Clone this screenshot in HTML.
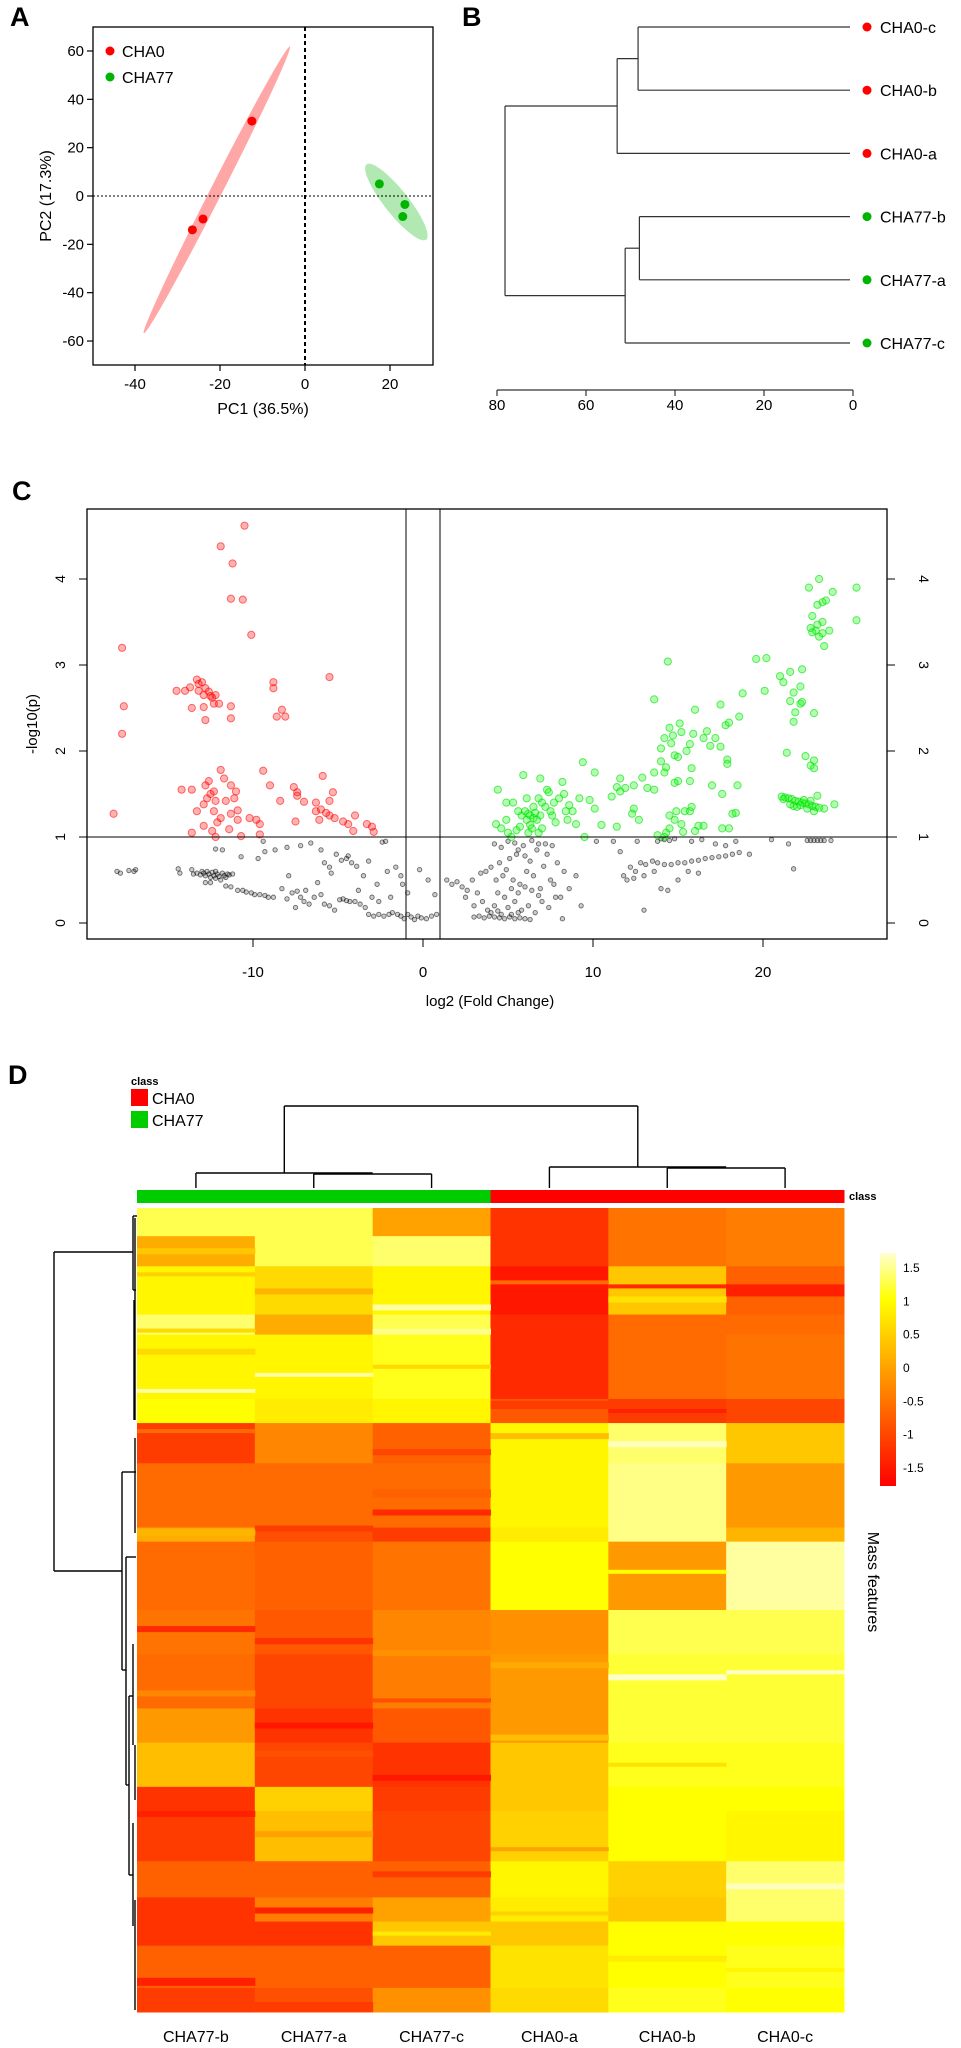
<!DOCTYPE html>
<html>
<head>
<meta charset="utf-8">
<style>
html,body{margin:0;padding:0;background:#fff;}
svg{display:block;font-family:"Liberation Sans",sans-serif;}
</style>
</head>
<body>
<svg id="fig" width="961" height="2048" viewBox="0 0 961 2048" xmlns="http://www.w3.org/2000/svg">
<rect x="0" y="0" width="961" height="2048" fill="#fff"/>

<g>
  <text x="10" y="26" font-size="27" font-weight="bold">A</text>
  <g id="pcaMarks"></g>
  <rect x="93" y="27" width="340" height="338" fill="none" stroke="#000" stroke-width="1.3"/>
  <g id="pcaAxes"></g>
  <text x="263" y="414" font-size="16" text-anchor="middle">PC1 (36.5%)</text>
  <text transform="translate(51,196) rotate(-90)" font-size="16" text-anchor="middle">PC2 (17.3%)</text>
  <g>
    <circle cx="110" cy="51" r="4.5" fill="#ff0000"/>
    <text x="122" y="57" font-size="16">CHA0</text>
    <circle cx="110" cy="77" r="4.5" fill="#00b400"/>
    <text x="122" y="83" font-size="16">CHA77</text>
  </g>
</g>

<g>
  <text x="462" y="26" font-size="27" font-weight="bold">B</text>
  <g id="dendroB"></g>
</g>

<g>
  <text x="12" y="500" font-size="27" font-weight="bold">C</text>
  <g id="volMarks"></g>
  <g id="volAxes"></g>
  <text x="490" y="1006" font-size="15" text-anchor="middle">log2 (Fold Change)</text>
  <text transform="translate(37,724) rotate(-90)" font-size="15" text-anchor="middle">-log10(p)</text>
</g>

<g>
  <text x="8" y="1084" font-size="27" font-weight="bold">D</text>
  <g>
    <text x="131" y="1085" font-size="11" font-weight="bold">class</text>
    <rect x="131" y="1089" width="17" height="17" fill="#ff0000"/>
    <text x="152" y="1104" font-size="16">CHA0</text>
    <rect x="131" y="1111" width="17" height="17" fill="#00cc00"/>
    <text x="152" y="1126" font-size="16">CHA77</text>
  </g>
  <g id="heat"></g>
  <g id="heatDendro"></g>
  <text x="849" y="1200" font-size="11" font-weight="bold">class</text>
  <defs>
    <linearGradient id="cbar" x1="0" y1="0" x2="0" y2="1">
      <stop offset="0" stop-color="#ffffd0"/>
      <stop offset="0.2" stop-color="#ffff00"/>
      <stop offset="0.5" stop-color="#ffa000"/>
      <stop offset="0.8" stop-color="#ff4000"/>
      <stop offset="1" stop-color="#ff0000"/>
    </linearGradient>
  </defs>
  <rect x="880" y="1253" width="16" height="233" fill="url(#cbar)"/>
  <g id="cbarLabels" font-size="12"></g>
  <text transform="translate(868,1582) rotate(90)" font-size="16" text-anchor="middle">Mass features</text>
  <g id="colLabels" font-size="16"></g>
</g>
</svg>

<script>
const pcaRedX = [-26.5, -24, -12.5];
const pcaRedY = [-14, -9.5, 31];
const pcaGreenX = [17.5, 23.5, 23];
const pcaGreenY = [5, -3.5, -8.5];
const pcaXTicks = [-40, -20, 0, 20];
const pcaYTicks = [60, 40, 20, 0, -20, -40, -60];

const dendroLeaves = ["CHA0-c", "CHA0-b", "CHA0-a", "CHA77-b", "CHA77-a", "CHA77-c"];
const dendroLeafGroup = ["CHA0", "CHA0", "CHA0", "CHA77", "CHA77", "CHA77"];
const dendroMergeHeights = [48.3, 53, 48, 51.2, 78.2];
const dendroTicks = [80, 60, 40, 20, 0];

const volXTicks = [-10, 0, 10, 20];
const volYTicks = [0, 1, 2, 3, 4];
const volRed = [[-10.5,4.62],[-11.9,4.38],[-11.2,4.18],[-11.3,3.77],[-10.6,3.76],[-10.1,3.35],[-17.7,3.2],[-17.6,2.52],[-17.7,2.2],[-18.2,1.27],[-5.5,2.86],[-8.8,2.8],[-8.8,2.73],[-8.3,2.48],[-8.6,2.4],[-8.1,2.4],
[-14.5,2.7],[-14.0,2.7],[-13.7,2.74],[-13.3,2.83],[-13.2,2.78],[-13.0,2.8],[-12.8,2.73],[-13.2,2.7],[-12.9,2.65],[-12.6,2.69],[-12.4,2.62],[-12.3,2.55],[-12.0,2.55],[-12.2,2.65],[-11.3,2.52],[-11.3,2.38],[-12.8,2.36],[-13.6,2.5],[-12.9,2.51],[-12.5,2.64],
[-14.2,1.55],[-13.6,1.55],[-12.8,1.6],[-12.6,1.65],[-12.5,1.5],[-12.7,1.45],[-12.3,1.53],[-12.9,1.38],[-12.2,1.42],[-12.3,1.3],[-11.9,1.22],[-12.1,1.17],[-12.4,1.07],[-11.9,1.78],[-11.7,1.68],[-11.3,1.6],[-11.0,1.53],[-11.1,1.45],[-11.6,1.42],[-11.3,1.27],[-10.9,1.31],[-11.4,1.09],[-10.9,1.2],[-12.9,1.13],[-13.6,1.05],[-13.3,1.3],[-12.2,1.0],[-10.7,1.01],[-10.2,1.22],[-9.8,1.2],[-9.6,1.15],[-9.6,1.03],[-9.4,1.77],[-9.0,1.6],[-8.4,1.42],[-7.6,1.58],[-7.4,1.52],[-7.4,1.48],[-7.5,1.18],[-6.3,1.4],[-6.3,1.3],[-6.1,1.2],[-5.9,1.71],[-5.7,1.28],[-5.5,1.42],[-5.3,1.52],[-5.2,1.22],[-5.5,1.25],[-4.7,1.18],[-4.4,1.15],[-4.0,1.25],[-4.1,1.07],[-3.3,1.15],[-3.0,1.12],[-2.9,1.06],[-6.0,1.32],[-7.0,1.41]];
const volGreen = [[14.4,3.04],[18.8,2.67],[18.6,2.40],[16.0,2.48],[17.5,2.54],[13.6,2.6],[19.6,3.07],[20.2,3.08],[21.0,2.87],[20.1,2.7],[21.6,2.92],[22.3,2.95],[22.2,2.75],[21.2,2.8],[21.8,2.68],[22.2,2.55],[22.3,2.57],[21.9,2.45],[21.8,2.34],[21.6,2.58],[23.0,2.44],[22.5,1.94],[23.0,1.89],[22.8,1.83],[23.0,1.8],[21.4,1.98],[22.7,3.9],[23.3,4.0],[25.5,3.9],[24.1,3.85],[23.7,3.75],[23.5,3.73],[23.2,3.7],[22.8,3.43],[23.1,3.4],[23.5,3.5],[23.2,3.47],[22.9,3.57],[22.9,3.38],[23.3,3.33],[23.5,3.37],[23.9,3.4],[23.6,3.22],[25.5,3.52],
[21.1,1.47],[21.3,1.46],[21.5,1.45],[21.7,1.44],[21.9,1.42],[22.1,1.41],[22.3,1.40],[22.5,1.39],[22.7,1.38],[22.9,1.36],[23.1,1.35],[21.6,1.38],[21.8,1.36],[22.0,1.35],[22.4,1.43],[22.6,1.33],[23.3,1.34],[23.6,1.33],[23.2,1.48],[24.2,1.38],[21.2,1.44],[22.2,1.37],[22.8,1.42],[23.0,1.3],
[9.4,1.87],[10.1,1.75],[11.4,1.58],[11.6,1.68],[12.4,1.6],[12.9,1.69],[13.2,1.57],[13.6,1.75],[14.0,1.88],[14.2,1.75],[14.3,1.81],[14.5,2.27],[14.2,2.15],[14.0,2.03],[14.7,2.18],[14.6,2.09],[14.8,1.95],[15.1,2.32],[15.2,2.22],[15.5,2.0],[15.7,2.08],[15.9,2.2],[16.5,2.15],[16.7,2.23],[16.9,2.06],[17.2,2.15],[17.5,2.05],[17.8,2.3],[18.0,2.33],[17.9,1.9],[17.9,1.85],[17.0,1.6],[17.6,1.5],[18.5,1.6],[18.2,1.27],[18.4,1.28],[18.0,1.1],[17.6,1.1],[15.0,1.93],[15.0,1.65],[14.8,1.63],[15.7,1.65],[15.8,1.8],[16.2,1.13],[16.5,1.13],[16.0,1.07],[15.7,1.3],[15.4,1.3],[15.8,1.35],[14.9,1.3],[14.8,1.2],[15.2,1.15],[15.3,1.06],[14.5,1.1],[14.3,1.05],[13.8,1.02],[14.2,1.0],[14.5,1.25],[13.6,1.55],[12.4,1.33],[12.3,1.27],[12.7,1.2],[11.9,1.57],[11.6,1.53],[11.1,1.47],[11.4,1.12],[10.5,1.14],[10.1,1.33],[9.8,1.43],[9.2,1.45],[9.0,1.15],[8.8,1.3],[9.5,1.0],
[4.4,1.55],[4.3,1.15],[4.6,1.1],[4.9,1.2],[4.9,1.4],[5.0,1.05],[5.3,1.4],[5.5,1.08],[5.7,1.12],[5.8,1.25],[5.9,1.72],[6.0,1.3],[6.1,1.2],[6.2,1.27],[6.3,1.25],[6.3,1.14],[6.4,1.1],[6.5,1.22],[6.5,1.35],[6.6,1.28],[6.7,1.2],[6.8,1.05],[6.8,1.45],[6.9,1.68],[7.0,1.4],[7.2,1.35],[7.3,1.55],[7.4,1.52],[7.5,1.3],[7.6,1.25],[7.8,1.17],[8.0,1.45],[8.2,1.64],[8.3,1.5],[8.4,1.3],[8.6,1.37],[7.0,1.1],[5.2,1.0],[6.1,1.45],[5.6,1.3],[6.9,1.25],[6.2,1.05],[7.7,1.4],[8.5,1.2]];
const volGray = [[-18,0.6],[-17.8,0.58],[-17.3,0.61],[-17,0.6],[-16.9,0.62],[-14.4,0.63],[-14.3,0.58],[-13.6,0.62],
[-13.5,0.57],[-13.3,0.58],[-13.1,0.56],[-12.9,0.58],[-12.8,0.55],[-12.6,0.57],[-12.5,0.53],[-12.4,0.59],[-12.3,0.55],[-12.2,0.52],[-12.1,0.57],[-12.0,0.54],[-11.9,0.5],[-11.8,0.58],[-11.7,0.55],[-11.6,0.53],[-11.5,0.57],[-11.4,0.56],[-11.2,0.57],[-12.7,0.6],[-13.0,0.6],[-12.2,0.6],
[-12.8,0.47],[-12.5,0.47],[-12.2,0.86],[-11.8,0.85],[-11.6,0.43],[-11.3,0.42],[-10.9,0.38],[-10.6,0.38],[-10.4,0.36],[-10.1,0.35],[-9.9,0.33],[-9.6,0.33],[-9.3,0.32],[-9.1,0.3],[-8.8,0.3],[-10.7,0.77],[-9.7,0.75],[-9.4,0.95],[-9.3,0.83],[-8.7,0.85],[-8.3,0.4],[-8.0,0.28],[-7.7,0.35],[-7.4,0.37],[-7.2,0.3],[-7.0,0.25],[-6.7,0.22],[-6.4,0.3],[-6.0,0.33],[-5.8,0.22],[-5.5,0.2],[-5.2,0.15],[-4.9,0.27],[-4.7,0.28],[-4.5,0.26],[-4.3,0.25],[-4.0,0.25],[-3.7,0.22],[-3.4,0.18],[-3.2,0.1],[-2.9,0.08],[-2.6,0.1],[-2.3,0.08],[-2.0,0.1],[-1.8,0.12],[-1.5,0.1],[-1.3,0.08],[-1.1,0.05],[-0.9,0.1],[-0.7,0.07],[-0.5,0.04],[-0.3,0.08],[-0.1,0.06],[0.2,0.05],[0.5,0.08],[0.8,0.1],
[-8.0,0.88],[-7.2,0.9],[-6.6,0.93],[-6.0,0.85],[-5.8,0.7],[-5.5,0.65],[-5.1,0.8],[-4.8,0.73],[-4.5,0.75],[-4.4,0.78],[-4.2,0.7],[-3.9,0.66],[-3.5,0.55],[-3.2,0.72],[-2.7,0.45],[-2.4,0.94],[-2.2,0.95],[-2.1,0.6],[-1.6,0.65],[-1.3,0.55],[-1.2,0.45],[-0.9,0.35],[-0.2,0.62],[0.3,0.5],[0.7,0.33],[-7.9,0.55],[-7.5,0.18],[-6.9,0.38],[-6.2,0.47],[-5.4,0.58],[-3.8,0.38],[-3.0,0.3],[-2.6,0.25],[-1.9,0.3],
[1.4,0.5],[1.7,0.45],[2.0,0.48],[2.3,0.42],[2.6,0.38],[2.9,0.5],[3.2,0.35],[3.4,0.58],[3.7,0.6],[4.0,0.65],[4.3,0.5],[4.5,0.7],[4.7,0.55],[4.9,0.62],[5.1,0.75],[5.3,0.5],[5.5,0.8],[5.7,0.45],[5.9,0.9],[6.1,0.6],[6.3,0.72],[6.5,0.55],[6.7,0.85],[6.9,0.4],[7.1,0.66],[7.3,0.8],[7.5,0.5],[7.7,0.45],[7.9,0.7],[8.1,0.3],[8.3,0.6],[8.6,0.4],[9.0,0.55],[9.3,0.2],[2.5,0.3],[3.0,0.2],[3.5,0.25],[3.8,0.15],[4.2,0.2],[4.6,0.1],[5.0,0.18],[5.4,0.25],[5.8,0.15],[6.2,0.2],[6.6,0.12],[7.0,0.25],[7.4,0.18],[7.8,0.3],[8.2,0.05],
[3.0,0.07],[3.3,0.08],[3.6,0.06],[3.9,0.08],[4.2,0.07],[4.5,0.06],[4.8,0.05],[5.1,0.07],[5.4,0.05],[5.7,0.06],[6.0,0.05],[6.3,0.04],[4.0,0.12],[4.4,0.14],[5.2,0.1],[5.6,0.12],
[4.2,0.92],[4.6,0.88],[5.0,0.95],[5.4,0.93],[5.6,0.85],[6.0,0.78],[6.4,0.96],[6.8,0.92],[7.2,0.92],[7.6,0.9],[5.2,0.4],[5.6,0.35],[6.0,0.42],[6.4,0.38],[6.8,0.32],[4.4,0.35],[4.8,0.3],
[10.2,0.95],[11.2,0.95],[11.6,0.83],[12.2,0.65],[12.5,0.6],[12.8,0.7],[13.1,0.68],[13.5,0.72],[13.8,0.7],[14.2,0.68],[14.6,0.68],[15.0,0.7],[15.4,0.7],[15.8,0.72],[16.2,0.73],[16.6,0.75],[17.0,0.76],[17.4,0.77],[17.8,0.78],[18.2,0.8],[18.6,0.82],[19.2,0.8],[11.8,0.55],[12.0,0.5],[12.4,0.52],[13.0,0.55],[13.6,0.6],[14.0,0.4],[14.4,0.38],[15.0,0.5],[15.6,0.6],[16.2,0.58],[12.6,0.95],[13.8,0.95],[14.2,0.97],[14.8,0.98],[15.8,0.95],[16.4,0.97],[17.2,0.92],[17.8,0.9],[18.4,0.95],[20.5,0.97],[21.5,0.92],[21.8,0.63],[22.6,0.96],[22.8,0.96],[23.0,0.96],[23.2,0.96],[23.4,0.96],[23.6,0.96],[24.0,0.96],[13.0,0.15],[14.0,0.98],[14.5,0.96]];

const heatColumns = ["CHA77-b", "CHA77-a", "CHA77-c", "CHA0-a", "CHA0-b", "CHA0-c"];
const heatColumnClass = ["CHA77", "CHA77", "CHA77", "CHA0", "CHA0", "CHA0"];
const heatBlockRows = [14,15,24,10,32,12,20,32,7,34,22,27,17,22,12,25,18,12,12,21,12];
const heatBlockValues = [
 [1.3,1.3,0.0,-1.2,-0.5,-0.4],
 [0.1,1.3,1.4,-1.2,-0.5,-0.4],
 [0.9,0.6,0.9,-1.5,0.4,-0.7],
 [1.4,0.1,1.3,-1.3,-0.6,-0.6],
 [0.9,0.9,1.1,-1.3,-0.6,-0.5],
 [1.0,0.8,0.9,-0.8,-1.1,-1.0],
 [-1.1,-0.3,-0.7,0.9,1.4,0.4],
 [-0.6,-0.6,-0.6,0.9,1.5,-0.1],
 [0.1,-0.9,-1.1,0.8,1.5,0.2],
 [-0.6,-0.7,-0.5,1.0,-0.1,1.6],
 [-0.5,-0.8,-0.3,-0.2,1.3,1.3],
 [-0.6,-1.0,-0.4,-0.1,1.2,1.2],
 [-0.1,-1.2,-0.8,-0.1,1.2,1.2],
 [0.3,-1.0,-1.2,0.4,1.1,1.1],
 [-1.2,0.5,-1.1,0.4,1.0,1.0],
 [-1.1,0.3,-1.0,0.5,1.0,0.9],
 [-0.7,-0.7,-0.7,0.9,0.5,1.4],
 [-1.2,-0.4,0.0,0.8,0.4,1.4],
 [-1.2,-1.2,0.4,0.4,1.0,1.0],
 [-0.7,-0.7,-0.7,0.7,1.0,1.1],
 [-1.1,-0.9,-0.2,0.6,1.1,1.0]
];
const heatStripes = [[38,6,5,-1.4],[38,2,4,-1.3],[36,2,3,-0.6],[44,3,4,0.7],[48,3,2,1.6],[90,2,0,1.6],[82,2,1,1.6],[112,3,3,0.3],[116,3,4,1.7],[150,3,2,-1.3],[158,3,1,-1.1],[232,3,4,1.8],[230,2,5,1.8],[208,3,0,-1.3],[256,3,1,-1.5],[282,3,2,-1.5],[336,3,5,1.7],[383,4,0,-1.4],[395,5,1,-1.1],[180,2,4,1.0],[60,2,0,0.6],[100,2,4,-1.4],
[20,3,0,0.4],[32,2,0,0.5],[40,3,1,0.2],[60,3,2,1.5],[70,3,0,0.6],[78,2,2,0.6],[96,4,3,-1.1],[110,2,0,-0.6],[120,3,2,-1.0],[140,4,2,-0.7],[160,3,0,0.2],[170,2,1,-0.7],[214,3,1,-1.2],[220,3,2,-0.2],[226,3,3,0.1],[240,3,0,-0.3],[244,2,2,-0.9],[262,3,3,0.3],[270,3,1,-0.9],[276,2,4,0.7],[300,3,0,-1.4],[310,3,1,0.0],[318,2,3,0.0],[330,3,2,-1.1],[348,3,1,-1.4],[350,2,3,0.5],[360,2,2,0.8],[372,3,4,0.8],[378,2,5,0.9]];
const cbarTicks = [1.5, 1, 0.5, 0, -0.5, -1, -1.5];

const NS = "http://www.w3.org/2000/svg";
function mk(tag, attrs, parent) {
  const e = document.createElementNS(NS, tag);
  for (const k in attrs) e.setAttribute(k, attrs[k]);
  parent.appendChild(e);
  return e;
}

const pxA = v => 305 + 4.25 * v;
const pyA = v => 196 - 2.417 * v;
(function () {
  const g = document.getElementById("pcaMarks");
  const e1 = mk("ellipse", {cx: pxA(-20.75), cy: pyA(2.5), rx: 161, ry: 6, fill: "rgba(255,0,0,0.35)", transform: `rotate(-63 ${pxA(-20.75)} ${pyA(2.5)})`}, g);
  
  
  const e2 = mk("ellipse", {cx: pxA(21.5), cy: pyA(-2.5), rx: 48, ry: 12, fill: "rgba(0,180,0,0.3)", transform: `rotate(51.6 ${pxA(21.5)} ${pyA(-2.5)})`}, g);
  
  
  const l1 = mk("line", {x1: pxA(0), x2: pxA(0), y1: 27, y2: 365, stroke: "#000", "stroke-width": 2, "stroke-dasharray": "4 3"}, g);
  
  
  const l2 = mk("line", {x1: 93, x2: 433, y1: pyA(0), y2: pyA(0), stroke: "#000", "stroke-width": 1, "stroke-dasharray": "2 2"}, g);
  
  
  pcaRedX.forEach((x, i) => {
    const c = mk("circle", {cx: pxA(x), cy: pyA(pcaRedY[i]), r: 4.5, fill: "#ff0000"}, g);
    
    
  });
  pcaGreenX.forEach((x, i) => {
    const c = mk("circle", {cx: pxA(x), cy: pyA(pcaGreenY[i]), r: 4.5, fill: "#00b400"}, g);
    
    
  });
  const a = document.getElementById("pcaAxes");
  pcaXTicks.forEach(t => {
    const l = mk("line", {x1: pxA(t), x2: pxA(t), y1: 365, y2: 371, stroke: "#000", "stroke-width": 1.2}, a);
    
    
    const tx = mk("text", {x: pxA(t), y: 389, "font-size": 15, "text-anchor": "middle"}, a);
    tx.textContent = t;
    
    
  });
  pcaYTicks.forEach(t => {
    const l = mk("line", {x1: 87, x2: 93, y1: pyA(t), y2: pyA(t), stroke: "#000", "stroke-width": 1.2}, a);
    
    
    const tx = mk("text", {x: 84, y: pyA(t) + 5, "font-size": 15, "text-anchor": "end"}, a);
    tx.textContent = t;
    
    
  });
})();

(function () {
  const g = document.getElementById("dendroB");
  const hx = h => 853 - 4.45 * h;
  const leafY = i => 27 + i * 63.2;
  const leafEnd = 850;
  const st = {stroke: "#333", "stroke-width": 1.2, fill: "none"};
  function seg(x1, y1, x2, y2) {
    const l = mk("line", Object.assign({x1, y1, x2, y2}, st), g);
    
    
  }
  const h = dendroMergeHeights;
  const m1y = (leafY(0) + leafY(1)) / 2;
  seg(leafEnd, leafY(0), hx(h[0]), leafY(0)); seg(leafEnd, leafY(1), hx(h[0]), leafY(1));
  seg(hx(h[0]), leafY(0), hx(h[0]), leafY(1));
  const m2y = (m1y + leafY(2)) / 2;
  seg(hx(h[0]), m1y, hx(h[1]), m1y); seg(leafEnd, leafY(2), hx(h[1]), leafY(2));
  seg(hx(h[1]), m1y, hx(h[1]), leafY(2));
  const m3y = (leafY(3) + leafY(4)) / 2;
  seg(leafEnd, leafY(3), hx(h[2]), leafY(3)); seg(leafEnd, leafY(4), hx(h[2]), leafY(4));
  seg(hx(h[2]), leafY(3), hx(h[2]), leafY(4));
  const m4y = (m3y + leafY(5)) / 2;
  seg(hx(h[2]), m3y, hx(h[3]), m3y); seg(leafEnd, leafY(5), hx(h[3]), leafY(5));
  seg(hx(h[3]), m3y, hx(h[3]), leafY(5));
  seg(hx(h[1]), m2y, hx(h[4]), m2y); seg(hx(h[3]), m4y, hx(h[4]), m4y);
  seg(hx(h[4]), m2y, hx(h[4]), m4y);
  dendroLeaves.forEach((n, i) => {
    const c = mk("circle", {cx: 867, cy: leafY(i), r: 4.5, fill: dendroLeafGroup[i] === "CHA0" ? "#ff0000" : "#00b400"}, g);
    
    
    const t = mk("text", {x: 880, y: leafY(i) + 6, "font-size": 16}, g);
    t.textContent = n;
    
    
  });
  const ax = mk("line", {x1: hx(80), x2: hx(0), y1: 390, y2: 390, stroke: "#333", "stroke-width": 1.2}, g);
  
  
  dendroTicks.forEach(t => {
    const l = mk("line", {x1: hx(t), x2: hx(t), y1: 390, y2: 396, stroke: "#333", "stroke-width": 1.2}, g);
    
    
    const tx = mk("text", {x: hx(t), y: 410, "font-size": 15, "text-anchor": "middle"}, g);
    tx.textContent = t;
    
    
  });
})();

const pxC = v => 423 + 17 * v;
const pyC = v => 923 - 86 * v;
(function () {
  const g = document.getElementById("volMarks");
  volGray.forEach(p => {
    const c = mk("circle", {cx: pxC(p[0]), cy: pyC(p[1]), r: 2.2, fill: "rgba(0,0,0,0.2)", stroke: "rgba(0,0,0,0.55)", "stroke-width": 0.9}, g);
    
    
  });
  volRed.forEach(p => {
    const c = mk("circle", {cx: pxC(p[0]), cy: pyC(p[1]), r: 3.6, fill: "rgba(255,0,0,0.3)", stroke: "rgba(255,0,0,0.55)", "stroke-width": 1}, g);
    
    
  });
  volGreen.forEach(p => {
    const c = mk("circle", {cx: pxC(p[0]), cy: pyC(p[1]), r: 3.6, fill: "rgba(0,255,0,0.3)", stroke: "rgba(0,220,0,0.6)", "stroke-width": 1}, g);
    
    
  });
  const a = document.getElementById("volAxes");
  const box = mk("rect", {x: 87, y: 509, width: 800, height: 430, fill: "none", stroke: "#000", "stroke-width": 1.3}, a);
  
  
  [-1, 1].forEach(v => {
    const l = mk("line", {x1: pxC(v), x2: pxC(v), y1: 509, y2: 939, stroke: "#000", "stroke-width": 1}, a);
    
    
  });
  const hl = mk("line", {x1: 87, x2: 897, y1: pyC(1), y2: pyC(1), stroke: "#000", "stroke-width": 1}, a);
  
  
  volXTicks.forEach(t => {
    const l = mk("line", {x1: pxC(t), x2: pxC(t), y1: 939, y2: 947, stroke: "#000", "stroke-width": 1}, a);
    
    
    const tx = mk("text", {x: pxC(t), y: 977, "font-size": 15, "text-anchor": "middle"}, a);
    tx.textContent = t;
    
    
  });
  volYTicks.forEach(t => {
    const l = mk("line", {x1: 79, x2: 87, y1: pyC(t), y2: pyC(t), stroke: "#000", "stroke-width": 1}, a);
    
    
    const tx = mk("text", {transform: `translate(65,${pyC(t)}) rotate(-90)`, "font-size": 14, "text-anchor": "middle"}, a);
    tx.textContent = t;
    
    
    const r = mk("line", {x1: 887, x2: 895, y1: pyC(t), y2: pyC(t), stroke: "#000", "stroke-width": 1}, a);
    
    
    const tr = mk("text", {transform: `translate(919,${pyC(t)}) rotate(90)`, "font-size": 14, "text-anchor": "middle"}, a);
    tr.textContent = t;
    
    
  });
})();

function heat(v) {
  v = Math.max(-1.75, Math.min(1.75, v));
  const gch = Math.round(Math.max(0, Math.min(1, (v + 1.75) / 2.75)) * 255);
  const b = v > 1 ? Math.round((v - 1) / 0.75 * 200) : 0;
  return `rgb(255,${gch},${b})`;
}
(function () {
  const g = document.getElementById("heat");
  const left = 137, right = 844, top = 1208, bottom = 2012;
  const colW = (right - left) / heatColumns.length;
  const totalRows = heatBlockRows.reduce((s, n) => s + n, 0);
  const rowH = (bottom - top) / totalRows;
  heatColumnClass.forEach((c, j) => {
    const r = mk("rect", {x: left + j * colW, y: 1190, width: colW + 0.5, height: 13, fill: c === "CHA0" ? "#ff0000" : "#00cc00"}, g);
    
    
  });
  let row = 0;
  heatBlockRows.forEach((n, b) => {
    heatBlockValues[b].forEach((v, j) => {
      const r = mk("rect", {x: left + j * colW, y: top + row * rowH, width: colW + 0.5, height: n * rowH + 0.5, fill: heat(v)}, g);
      
      
    });
    row += n;
  });
  heatStripes.forEach(s => {
    const r = mk("rect", {x: left + s[2] * colW, y: top + s[0] * rowH, width: colW + 0.5, height: s[1] * rowH, fill: heat(s[3])}, g);
    
    
  });
  const lab = document.getElementById("colLabels");
  heatColumns.forEach((c, j) => {
    const t = mk("text", {x: left + (j + 0.5) * colW, y: 2042, "text-anchor": "middle"}, lab);
    t.textContent = c;
    
    
  });

  const d = document.getElementById("heatDendro");
  const st = {stroke: "#000", "stroke-width": 1.4, fill: "none"};
  function seg(x1, y1, x2, y2) {
    const l = mk("line", Object.assign({x1, y1, x2, y2}, st), d);
    
    
  }
  const cx = j => left + (j + 0.5) * colW;
  seg(cx(1), 1188, cx(1), 1174); seg(cx(2), 1188, cx(2), 1174); seg(cx(1), 1174, cx(2), 1174);
  seg(cx(0), 1188, cx(0), 1173); seg(cx(0), 1173, (cx(1) + cx(2)) / 2, 1173);
  seg(cx(4), 1188, cx(4), 1168); seg(cx(5), 1188, cx(5), 1168); seg(cx(4), 1168, cx(5), 1168);
  seg(cx(3), 1188, cx(3), 1167); seg(cx(3), 1167, (cx(4) + cx(5)) / 2, 1167);
  const lm = (cx(0) + (cx(1) + cx(2)) / 2) / 2, rm = (cx(3) + (cx(4) + cx(5)) / 2) / 2;
  seg(lm, 1173, lm, 1106); seg(rm, 1167, rm, 1106); seg(lm, 1106, rm, 1106);
  seg(54, 1252, 54, 1571); seg(54, 1252, 133, 1252); seg(54, 1571, 122, 1571);
  seg(133, 1216, 133, 1290); seg(133, 1216, 137, 1216); seg(133, 1290, 136, 1290);
  seg(135, 1218, 135, 1420); seg(134, 1300, 134, 1420);
  seg(122, 1472, 122, 1670); seg(122, 1472, 136, 1472); seg(122, 1670, 126, 1670);
  seg(135, 1438, 135, 1533);
  seg(126, 1557, 126, 1785); seg(126, 1557, 136, 1557); seg(126, 1785, 129, 1785);
  seg(129, 1696, 129, 1875); seg(129, 1696, 133, 1696); seg(129, 1875, 133, 1875);
  seg(133, 1644, 133, 1745); seg(133, 1823, 133, 1926);
  seg(135, 1745, 135, 1800); seg(135, 1900, 135, 2010);

  const cl = document.getElementById("cbarLabels");
  const cy = v => 1368 - 66.7 * v;
  cbarTicks.forEach(t => {
    const tx = mk("text", {x: 903, y: cy(t) + 4}, cl);
    tx.textContent = t;
    
    
  });
})();
</script>
</body>
</html>
